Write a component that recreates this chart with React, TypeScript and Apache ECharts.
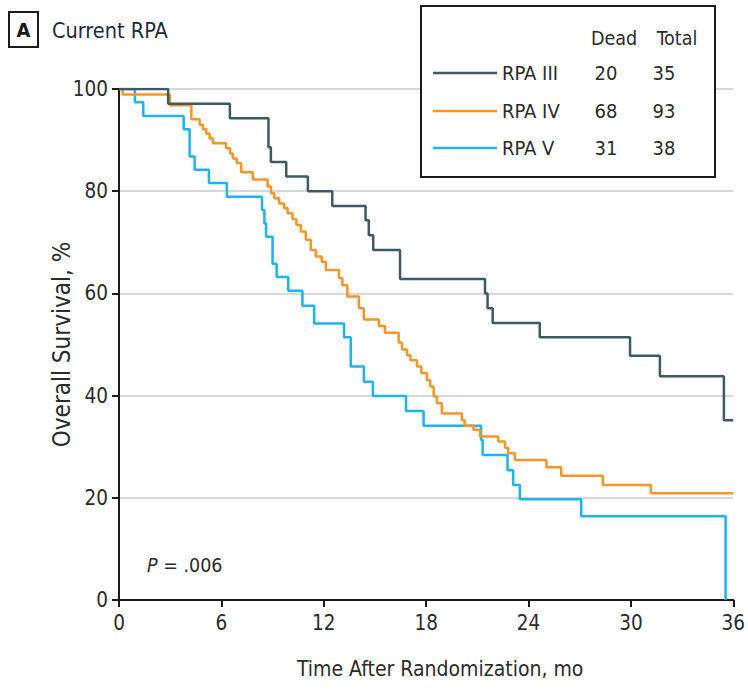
import React, { useEffect, useRef } from "react";
import * as echarts from "echarts";

const FONT = "'Liberation Sans Narrow', 'DejaVu Sans Condensed', 'Roboto Condensed', Roboto, sans-serif";

const xTicks = [0, 6, 12, 18, 24, 30, 36];
const yTicks = [0, 20, 40, 60, 80, 100];

const groupNames = ["RPA III", "RPA IV", "RPA V"];
const groupDead = [20, 68, 31];
const groupTotal = [35, 93, 38];
const groupColors = ["#3b5a63", "#f6962a", "#1cb4ea"];

// [month, survival % after event]
const rpaIII: number[][] = [
  [0, 100], [2.88, 97.1], [6.5, 94.3], [8.76, 88.6], [8.9, 85.7], [9.8, 82.9],
  [11.07, 80.0], [12.5, 77.1], [14.45, 74.3], [14.64, 71.4], [14.9, 68.5],
  [16.47, 62.8], [21.45, 60.0], [21.6, 57.1], [21.9, 54.2], [24.66, 51.4],
  [29.95, 47.8], [31.7, 43.8], [35.45, 35.2], [36, 35.2],
];

const rpaIV: number[][] = [
  [0, 100], [0.21, 98.9], [2.98, 96.8], [4.24, 94.1], [4.73, 93.0], [4.92, 92.1],
  [5.11, 91.3], [5.31, 90.3], [5.5, 89.4], [6.28, 88.4], [6.51, 87.4], [6.67, 86.4],
  [6.9, 85.5], [7.16, 83.7], [7.84, 82.3], [8.71, 80.9], [8.91, 79.6], [9.1, 78.6],
  [9.39, 77.6], [9.68, 76.7], [9.88, 75.7], [10.17, 74.5], [10.4, 73.4], [10.66, 72.1],
  [10.95, 70.5], [11.24, 68.5], [11.53, 67.2], [11.88, 66.2], [12.12, 64.6],
  [12.89, 63.0], [13.09, 61.6], [13.38, 59.4], [14.06, 57.1], [14.35, 54.9],
  [15.23, 53.6], [15.58, 52.3], [16.39, 50.4], [16.59, 49.0], [16.88, 47.9],
  [17.08, 46.9], [17.46, 45.7], [17.72, 44.4], [18.05, 43.0], [18.24, 41.8],
  [18.44, 39.8], [18.63, 38.5], [18.92, 36.5], [20.09, 35.2], [20.25, 34.1],
  [20.77, 33.3], [21.16, 32.0], [22.23, 31.0], [22.62, 29.8], [22.81, 28.7],
  [23.2, 27.4], [25.05, 26.0], [25.92, 24.3], [28.35, 22.5], [31.17, 20.9], [36, 20.9],
];

const rpaV: number[][] = [
  [0, 100], [0.93, 97.4], [1.42, 94.7], [3.79, 92.1], [4.14, 86.8], [4.43, 84.2],
  [5.27, 81.6], [6.32, 78.9], [8.38, 76.3], [8.52, 73.7], [8.62, 71.1], [9.0, 65.8],
  [9.24, 63.2], [9.92, 60.5], [10.75, 57.6], [11.44, 54.1], [13.19, 51.4],
  [13.58, 45.7], [14.35, 42.7], [14.88, 39.9], [16.82, 37.0], [17.85, 34.1],
  [21.22, 31.3], [21.31, 28.4], [22.77, 25.4], [23.1, 22.5], [23.49, 19.7],
  [27.09, 16.4], [35.55, 0],
];

const seriesData = [rpaIII, rpaIV, rpaV];

export default function App() {
  const ref = useRef<HTMLDivElement>(null);
  useEffect(() => {
    if (!ref.current) return;
    const chart = echarts.init(ref.current, null, { renderer: "svg" });
    const textColor = "#2b2b2b";
    const legendRows = [73, 111, 148];
    const graphic: any[] = [
      // panel tag
      { type: "rect", shape: { x: 9, y: 12, width: 29, height: 35 }, style: { fill: "#fff", stroke: "#1a1a1a", lineWidth: 2 } },
      { type: "text", x: 23.5, y: 30, style: { text: "A", font: `bold 20px ${FONT}`, fill: "#1a1a1a", align: "center", verticalAlign: "middle" } },
      { type: "text", x: 52, y: 30, style: { text: "Current RPA", font: `21.5px ${FONT}`, fill: "#1f2a3c", align: "left", verticalAlign: "middle" } },
      // legend box
      { type: "rect", z: 10, shape: { x: 421, y: 6, width: 294, height: 171 }, style: { fill: "#fff", stroke: "#1a1a1a", lineWidth: 2 } },
      { type: "text", z: 11, x: 614, y: 38, style: { text: "Dead", font: `19.5px ${FONT}`, fill: textColor, align: "center", verticalAlign: "middle" } },
      { type: "text", z: 11, x: 677, y: 38, style: { text: "Total", font: `19.5px ${FONT}`, fill: textColor, align: "center", verticalAlign: "middle" } },
      // P value
      {
        type: "text", x: 147, y: 565,
        style: {
          text: "{i|P} = .006",
          font: `19.5px ${FONT}`, fill: textColor, verticalAlign: "middle",
          rich: { i: { fontStyle: "italic", font: `italic 19.5px ${FONT}`, fill: textColor } },
        },
      },
    ];
    groupNames.forEach((name, i) => {
      const y = legendRows[i];
      graphic.push({ type: "line", z: 11, shape: { x1: 433, y1: y, x2: 497, y2: y }, style: { stroke: groupColors[i], lineWidth: 2.5 } });
      graphic.push({ type: "text", z: 11, x: 502, y, style: { text: name, font: `20px ${FONT}`, fill: textColor, align: "left", verticalAlign: "middle" } });
      graphic.push({ type: "text", z: 11, x: 606, y, style: { text: String(groupDead[i]), font: `20px ${FONT}`, fill: textColor, align: "center", verticalAlign: "middle" } });
      graphic.push({ type: "text", z: 11, x: 664, y, style: { text: String(groupTotal[i]), font: `20px ${FONT}`, fill: textColor, align: "center", verticalAlign: "middle" } });
    });

    chart.setOption({
      animation: false,
      backgroundColor: "#fff",
      textStyle: { fontFamily: FONT },
      grid: { left: 119, right: 12, top: 89, bottom: 90, containLabel: false },
      xAxis: {
        type: "value",
        min: xTicks[0],
        max: xTicks[xTicks.length - 1],
        interval: 6,
        name: "Time After Randomization, mo",
        nameLocation: "middle",
        nameGap: 58,
        nameMoveOverlap: false,
        nameTextStyle: { fontFamily: FONT, fontSize: 21, color: textColor, padding: [0, 0, 0, 28] },
        axisLine: { show: true, onZero: false, lineStyle: { color: "#1a1a1a", width: 2 } },
        axisTick: { show: true, length: 7, lineStyle: { color: "#1a1a1a", width: 2 } },
        axisLabel: { fontFamily: FONT, fontSize: 20.5, color: textColor, margin: 12 },
        splitLine: { show: false },
      },
      yAxis: {
        type: "value",
        min: yTicks[0],
        max: yTicks[yTicks.length - 1],
        interval: 20,
        name: "Overall Survival, %",
        nameLocation: "middle",
        nameGap: 57,
        nameMoveOverlap: false,
        nameRotate: 90,
        nameTextStyle: { fontFamily: FONT, fontSize: 24, color: textColor, verticalAlign: "middle" },
        axisLine: { show: true, onZero: false, lineStyle: { color: "#1a1a1a", width: 2 } },
        axisTick: { show: true, length: 7, lineStyle: { color: "#1a1a1a", width: 2 } },
        axisLabel: { fontFamily: FONT, fontSize: 20.5, color: textColor, margin: 11 },
        splitLine: { show: true, lineStyle: { color: "#d8d8d8", width: 2 } },
      },
      series: groupNames.map((name, i) => ({
        name,
        type: "line",
        step: "end",
        data: seriesData[i],
        showSymbol: false,
        symbol: "none",
        lineStyle: { color: groupColors[i], width: 2.5 },
        z: 3 - i + 2,
      })),
      graphic,
    });
    return () => chart.dispose();
  }, []);
  return <div ref={ref} style={{ position: "absolute", left: 0, top: 0, width: 748, height: 690 }} />;
}
